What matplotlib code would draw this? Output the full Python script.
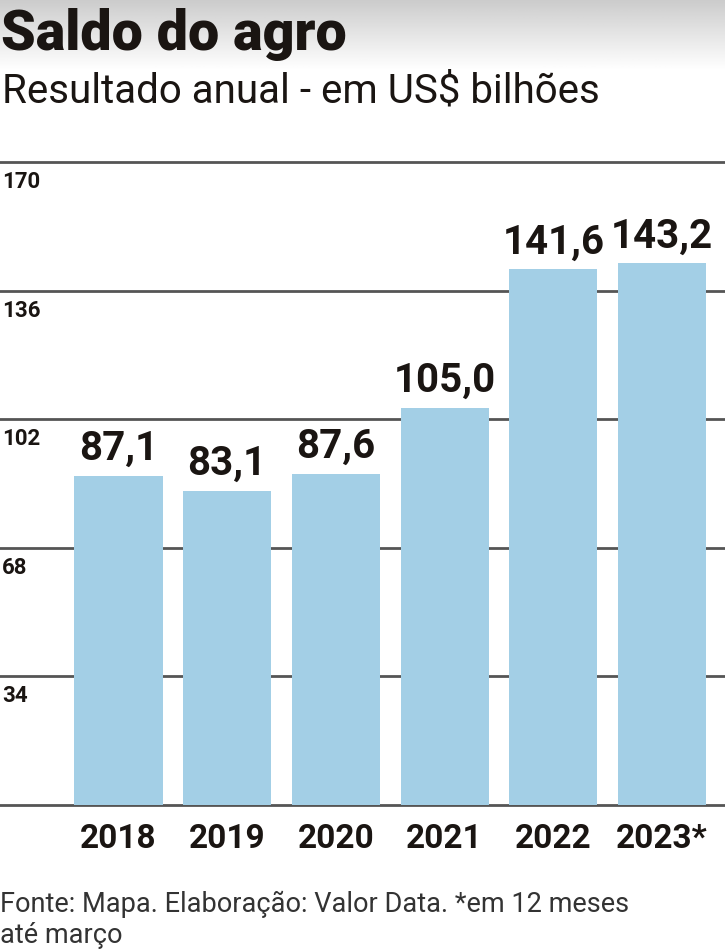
import matplotlib
matplotlib.use("Agg")
import matplotlib.pyplot as plt
import numpy as np

years = ["2018", "2019", "2020", "2021", "2022", "2023*"]
values = [87.1, 83.1, 87.6, 105.0, 141.6, 143.2]
value_labels = ["87,1", "83,1", "87,6", "105,0", "141,6", "143,2"]
yticks = [0, 34, 68, 102, 136, 170]
ytick_labels = ["", "34", "68", "102", "136", "170"]

title = "Saldo do agro"
subtitle = "Resultado anual - em US$ bilhões"
footer = "Fonte: Mapa. Elaboração: Valor Data. *em 12 meses\naté março"

FONT = ["Roboto", "DejaVu Sans"]
TXT = "#1a1512"
BAR = "#a3cfe6"
GRID = "#555555"

W, H = 725, 951
fig = plt.figure(figsize=(W / 100, H / 100), dpi=100)
fig.patch.set_facecolor("white")

# header gradient
bg = fig.add_axes([0, 1 - 70 / H, 1, 70 / H], zorder=0)
grad = np.linspace(0.80, 1.0, 100).reshape(-1, 1)
bg.imshow(np.repeat(grad, 2, axis=1), cmap="gray", vmin=0, vmax=1, aspect="auto",
          extent=[0, 1, 0, 1], origin="upper")
bg.axis("off")

ax = fig.add_axes([0, (H - 805) / H, 1, (805 - 162) / H], zorder=1)
ax.patch.set_alpha(0)
x = np.arange(len(years))
ax.bar(x, values, width=0.81, color=BAR, zorder=3)
ax.set_xlim(-1.09, 5.58)
ax.set_ylim(0, 170)
for t in yticks:
    ax.axhline(t, color=GRID, lw=2, zorder=1, clip_on=False)
for s in ax.spines.values():
    s.set_visible(False)
ax.set_xticks(x)
ax.set_xticklabels(years, fontsize=24, fontweight="bold", color=TXT, family=FONT)
ax.tick_params(axis="x", length=0, pad=13)
ax.set_yticks([])
for t, lab in zip(yticks, ytick_labels):
    if lab:
        ax.annotate(lab, xy=(0, t), xycoords=("axes fraction", "data"),
                    xytext=(2, -9), textcoords="offset pixels",
                    ha="left", va="top", fontsize=16, fontweight="bold",
                    color=TXT, family=FONT)
for xi, v, lab in zip(x, values, value_labels):
    ax.annotate(lab, xy=(xi, v), xytext=(0, 8), textcoords="offset pixels",
                ha="center", va="bottom", fontsize=29, fontweight="bold",
                color=TXT, family=FONT)

fig.text(1 / W, 1 - 50 / H, title, fontsize=40, fontweight="black", color=TXT,
         family=FONT, ha="left", va="baseline")
fig.text(2 / W, 1 - 103 / H, subtitle, fontsize=29, fontweight="normal", color=TXT,
         family=FONT, ha="left", va="baseline")
fig.text(0, 1 - 943 / H, footer, fontsize=19.5, color="#333333",
         family=FONT, ha="left", va="baseline", linespacing=1.2)

fig.savefig("out.png", dpi=100)
